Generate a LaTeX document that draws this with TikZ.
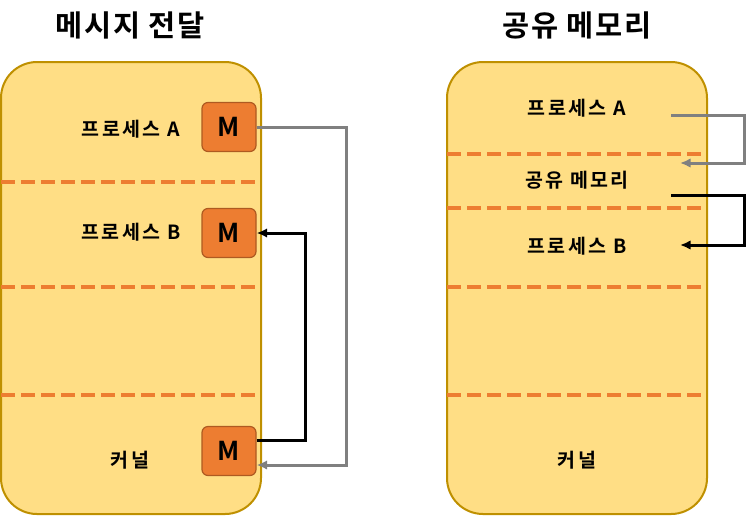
\documentclass[tikz,border=0pt]{standalone}
\usepackage{fontspec}
\newfontfamily\krfont{Noto Sans CJK KR Bold}
\usetikzlibrary{positioning,calc,arrows.meta}

\definecolor{memfill}{HTML}{FFDE85}
\definecolor{memedge}{HTML}{BF9000}
\definecolor{msgorange}{HTML}{ED7D31}
\definecolor{msgedge}{HTML}{AE5A21}
\definecolor{wiregray}{HTML}{808080}

\begin{document}
\begin{tikzpicture}[
    x=1pt,y=-1pt,
    membox/.style={draw=memedge,fill=memfill,line width=2pt,rounded corners=36pt,
      minimum width=260pt,minimum height=452pt,inner sep=0pt},
    msgbox/.style={draw=msgedge,fill=msgorange,line width=1.2pt,rounded corners=6pt,
      minimum width=54pt,minimum height=49pt,inner sep=0pt,
      font=\krfont\fontsize{26}{26}\selectfont},
    layer/.style={draw=msgorange,line width=4pt,dash pattern=on 14pt off 6pt},
    title/.style={font=\krfont\fontsize{29.5}{29.5}\selectfont\addfontfeature{LetterSpace=6}},
    wire/.style={line width=3pt,-{Latex[length=10.5pt,width=9.5pt]}},
  ]
  \useasboundingbox (0,0) rectangle (749,515);
  \node[membox] (msgmem) at (131,288) {};
  \node[membox] (shmmem) at (577,288) {};
  \node[title] (msgtitle) at (130,25) {메시지 전달};
  \node[title] (shmtitle) at (577,25) {공유 메모리};
  % dashed borders
  \foreach \y in {182,287,395}
    \draw[layer] (1,\y) -- (258,\y);
  \foreach \y in {154,208,287,395}
    \draw[layer] (447,\y) -- (703,\y);
  \begin{scope}[
    every node/.style={
      align=center,
      anchor=center,
      font=\krfont\fontsize{19.5}{19.5}\selectfont\addfontfeature{LetterSpace=12},
    },
    ]
    \node (procA)   at (131,129) {프로세스 A};
    \node (procB)   at (131,232) {프로세스 B};
    \node (kernelL) at (130,460) {커널};
    \node (shA)     at (577,108) {프로세스 A};
    \node (shmem)   at (577,180) {공유 메모리};
    \node (shB)     at (577,246) {프로세스 B};
    \node (kernelR) at (577,460) {커널};
  \end{scope}
  \node[msgbox] (mA) at (229,127) {M};
  \node[msgbox] (mB) at (229,233) {M};
  \node[msgbox] (mK) at (229,451) {M};
  \coordinate (kin)  at ($(mK.east)+(0,14)$);
  \coordinate (kout) at ($(mK.east)+(0,-11)$);
  \coordinate (aout) at (671,115);
  \coordinate (ain)  at (680,163);
  \coordinate (bout) at (671,195);
  \coordinate (bin)  at (680,245);
  \draw[wire,wiregray] (mA.east) -- ++(90,0) |- (kin);
  \draw[wire,black]    (kout) -- ++(49,0) |- (mB.east);
  \draw[wire,wiregray] (aout) -- ++(73,0) |- (ain);
  \draw[wire,black]    (bout) -- ++(73,0) |- (bin);
\end{tikzpicture}
\end{document}
